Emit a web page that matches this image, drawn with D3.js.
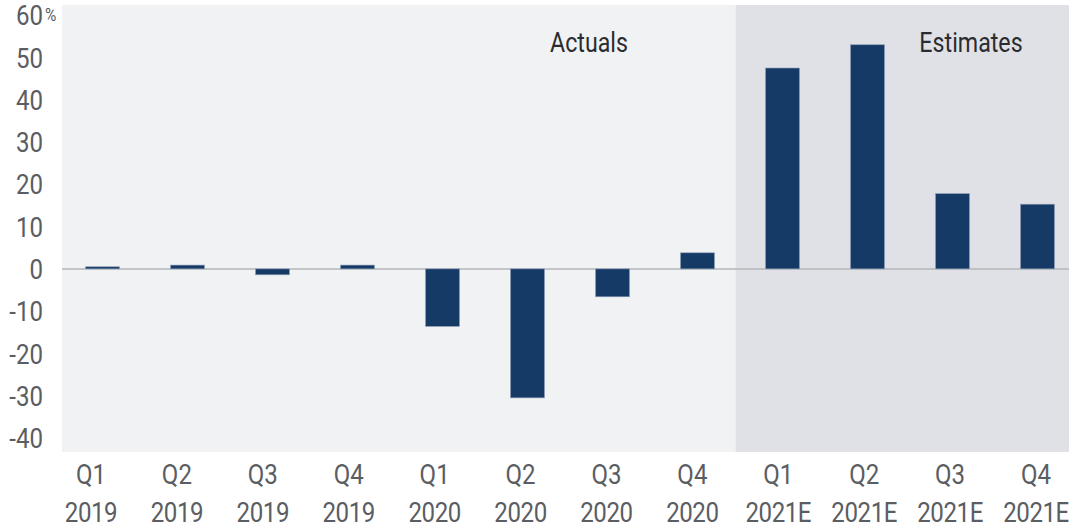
<!DOCTYPE html>
<html>
<head>
<meta charset="utf-8">
<script src="https://cdn.jsdelivr.net/npm/d3@7"></script>
<style>
  body { margin: 0; background: #fff; }
  text { font-family: Roboto, "Liberation Sans", sans-serif; fill: #5a5d62; }
</style>
</head>
<body>
<div id="chart"></div>
<script>
var quarters = ["Q1", "Q2", "Q3", "Q4", "Q1", "Q2", "Q3", "Q4", "Q1", "Q2", "Q3", "Q4"];
var years = ["2019", "2019", "2019", "2019", "2020", "2020", "2020", "2020", "2021E", "2021E", "2021E", "2021E"];
var values = [0.5, 0.9, -1.4, 0.9, -13.6, -30.5, -6.6, 3.8, 47.5, 53.0, 17.8, 15.3];
var yTicks = [60, 50, 40, 30, 20, 10, 0, -10, -20, -30, -40];

(function () {
    var width = 1075, height = 527;

    var cats = quarters.map(function (q, i) { return i; });

    // bars
    var x = d3.scaleBand()
        .domain(cats)
        .range([60, 1080])
        .paddingInner(0.6)
        .paddingOuter(0.3);

    // category labels are spread a little differently from the bars
    var xLabel = d3.scalePoint()
        .domain(cats)
        .range([91, 1036]);

    var y = d3.scaleLinear()
        .domain([-43.3, 62.4])
        .range([452, 5]);

    var svg = d3.select("#chart")
        .append("svg")
        .attr("width", width)
        .attr("height", height);

    var plotLeft = 62, plotRight = 1069;
    var split = (x(7) + x.bandwidth() + x(8)) / 2 - 4.5;

    svg.append("rect")
        .attr("x", plotLeft).attr("y", y(62.4))
        .attr("width", split - plotLeft).attr("height", y(-43.3) - y(62.4))
        .attr("fill", "#f1f2f4");
    svg.append("rect")
        .attr("x", split).attr("y", y(62.4))
        .attr("width", plotRight - split).attr("height", y(-43.3) - y(62.4))
        .attr("fill", "#e0e1e6");

    svg.append("line")
        .attr("x1", plotLeft).attr("x2", plotRight)
        .attr("y1", y(0)).attr("y2", y(0))
        .attr("stroke", "#b4b6ba")
        .attr("stroke-width", 1.5);

    svg.append("g")
        .selectAll("rect")
        .data(values)
        .join("rect")
        .attr("x", (d, i) => x(i))
        .attr("width", x.bandwidth())
        .attr("y", d => y(Math.max(0, d)))
        .attr("height", d => Math.abs(y(d) - y(0)))
        .attr("fill", "#163a66")
        .attr("stroke", "#8fa0b8")
        .attr("stroke-width", 0.6);

    // narrow font look
    var sx = 0.86;

    svg.append("g")
        .selectAll("text")
        .data(yTicks)
        .join("text")
        .attr("transform", d => "translate(43," + y(d) + ") scale(" + sx + ",1)")
        .attr("dy", "0.36em")
        .attr("text-anchor", "end")
        .attr("font-size", 28)
        .text(d => d);

    svg.append("text")
        .attr("transform", "translate(45,21) scale(" + sx + ",1)")
        .attr("font-size", 18)
        .text("%");

    var xl = svg.append("g")
        .selectAll("g")
        .data(cats)
        .join("g")
        .attr("transform", d => "translate(" + xLabel(d) + ",0) scale(" + sx + ",1)");
    xl.append("text")
        .attr("y", 484)
        .attr("text-anchor", "middle")
        .attr("font-size", 28)
        .text(d => quarters[d]);
    xl.append("text")
        .attr("y", 522)
        .attr("text-anchor", "middle")
        .attr("font-size", 28)
        .attr("letter-spacing", -0.5)
        .text(d => years[d]);

    svg.append("text")
        .attr("transform", "translate(589,52) scale(" + sx + ",1)")
        .attr("text-anchor", "middle")
        .attr("font-size", 27)
        .style("fill", "#2a2c30")
        .text("Actuals");
    svg.append("text")
        .attr("transform", "translate(971,52) scale(" + sx + ",1)")
        .attr("text-anchor", "middle")
        .attr("font-size", 27)
        .style("fill", "#2a2c30")
        .text("Estimates");
})();
</script>
</body>
</html>
